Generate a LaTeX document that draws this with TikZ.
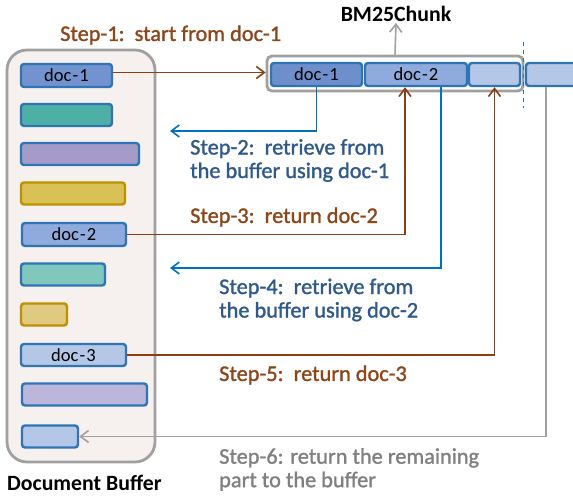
\documentclass[tikz,border=0pt]{standalone}
\usepackage{fontspec}
\setmainfont{Carlito}
\newfontfamily\lblfont{Carlito}[FakeBold=1.3]
\usetikzlibrary{arrows.meta}
\definecolor{barblue}{RGB}{46,117,182}
\definecolor{baryellow}{RGB}{191,144,0}
\definecolor{fdocA}{RGB}{115,147,208}
\definecolor{fteal}{RGB}{77,175,165}
\definecolor{fpurple}{RGB}{164,155,203}
\definecolor{fyellow}{RGB}{217,193,86}
\definecolor{fdocB}{RGB}{143,170,220}
\definecolor{ftealL}{RGB}{128,200,189}
\definecolor{fyellowL}{RGB}{224,201,128}
\definecolor{fdocC}{RGB}{180,199,231}
\definecolor{fpurpleL}{RGB}{189,182,219}
\definecolor{fchunkA}{RGB}{111,143,204}
\definecolor{bufbg}{RGB}{246,240,238}
\definecolor{grayline}{RGB}{160,160,160}
\definecolor{graytext}{RGB}{128,128,128}
\definecolor{brownline}{RGB}{140,62,20}
\definecolor{browntext}{RGB}{140,70,25}
\definecolor{blueline}{RGB}{0,112,192}
\definecolor{bluetext}{RGB}{46,89,138}
\newcommand{\docname}[1]{doc\kern1.2pt-\kern1.2pt#1}
\tikzset{
  bar/.style={draw=barblue, line width=2.4pt, rounded corners=3pt, minimum height=22pt, inner sep=0pt, font=\fontsize{18.5}{18.5}\selectfont},
  ybar/.style={bar, draw=baryellow},
  cell/.style={bar, minimum height=23pt},
  bufbox/.style={draw=grayline, line width=2.8pt, rounded corners=20pt, fill=bufbg, inner sep=0pt},
  chunkbox/.style={draw=grayline, line width=2.8pt, rounded corners=5pt, fill=white, inner sep=0pt},
  tip/.style={-{Straight Barb[length=8pt,width=12pt]}},
  brarr/.style={draw=brownline, line width=1.6pt, tip},
  blarr/.style={draw=blueline, line width=1.6pt, tip},
  grarr/.style={draw=grayline, line width=1.6pt, tip},
  steplbl/.style={anchor=west, align=left, inner sep=0pt, font=\lblfont\fontsize{22.3}{23.5}\selectfont},
  title/.style={inner sep=0pt, font=\bfseries\fontsize{21.8}{23}\selectfont},
}
\begin{document}
\begin{tikzpicture}[x=1pt,y=-1pt]
\useasboundingbox (0,0) rectangle (573,497);
\clip (0,0) rectangle (573,497);
% document buffer
\node[bufbox, minimum width=148pt, minimum height=412pt] (buf) at (81,256) {};
\node[bar, fill=fdocA, minimum width=91pt, minimum height=23pt] (b1) at (66.5,75.5) {\docname{1}};
\node[bar, fill=fteal, minimum width=91pt] (b2) at (66.5,115) {};
\node[bar, fill=fpurple, minimum width=118pt] (b3) at (80,154) {};
\node[ybar, fill=fyellow, minimum width=104pt] (b4) at (73,193.5) {};
\node[bar, fill=fdocB, minimum width=104pt, minimum height=23pt] (b5) at (74,234.5) {\docname{2}};
\node[bar, fill=ftealL, minimum width=84pt] (b6) at (63,274.5) {};
\node[ybar, fill=fyellowL, minimum width=46pt] (b7) at (44,314.5) {};
\node[bar, fill=fdocC, minimum width=105pt] (b8) at (73.5,355) {\docname{3}};
\node[bar, fill=fpurpleL, minimum width=125pt] (b9) at (84.5,394.5) {};
\node[bar, fill=fdocC, minimum width=56pt] (b10) at (50,436.5) {};
\node[title, anchor=west] (buflbl) at (7,483) {Document Buffer};
% chunk
\node[chunkbox, minimum width=256pt, minimum height=35pt] (chunk) at (395,73.5) {};
\node[cell, fill=fchunkA, minimum width=91pt] (c1) at (316.5,74.5) {\docname{1}};
\node[cell, fill=fdocB, minimum width=102pt] (c2) at (416,74.5) {\docname{2}};
\node[cell, fill=fdocC, minimum width=51pt] (c3) at (494.5,74.5) {};
\node[cell, fill=fdocC, minimum width=60pt] (c4) at (556,74.5) {};
\node[title] (bm) at (396,14) {BM25Chunk};
\draw[grarr] (chunk.north) -- ([yshift=-1pt]bm.south);
\coordinate (d1) at (523,42);
\coordinate (d2) at (523,108);
\draw[barblue, line width=1pt, dash pattern=on 4pt off 4pt] (d1) -- (d2);
% connectors
\coordinate (s2end) at (170,131);
\coordinate (s4end) at (170,268);
\draw[brarr] ([yshift=3pt]b1.east) -- ([yshift=3pt]b1.east -| chunk.west);
\draw[blarr] (c1.south) |- (s2end);
\draw[brarr] (b5.east) -| ([xshift=-11pt]c2.south);
\draw[blarr] ([xshift=25pt]c2.south) |- (s4end);
\draw[brarr] (b8.east) -| (c3.south);
\draw[grarr] ([xshift=-10pt]c4.south) |- (b10.east);
% labels
\node[steplbl, text=browntext] (l1) at (60,35) {Step-1:\ \ start from doc-1};
\node[steplbl, text=bluetext] (l2) at (190,160.5) {Step-2:\ \ retrieve from\\the buffer using doc-1};
\node[steplbl, text=browntext] (l3) at (190,217) {Step-3:\ \ return doc-2};
\node[steplbl, text=bluetext] (l4) at (219,300) {Step-4:\ \ retrieve from\\the buffer using doc-2};
\node[steplbl, text=browntext] (l5) at (219,375) {Step-5:\ \ return doc-3};
\node[steplbl, text=graytext] (l6) at (219,469.5) {Step-6: return the remaining\\part to the buffer};
\end{tikzpicture}
\end{document}
